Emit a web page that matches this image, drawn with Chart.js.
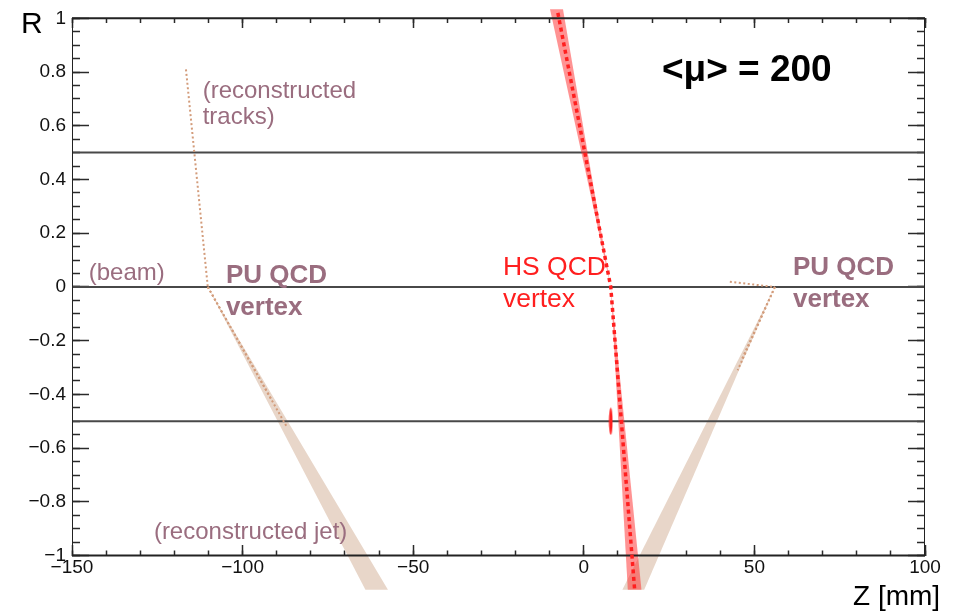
<!DOCTYPE html>
<html>
<head>
<meta charset="utf-8">
<title>R-Z event display</title>
<script src="https://cdn.jsdelivr.net/npm/chart.js@4.4.1/dist/chart.umd.min.js"></script>
<style>
  html, body { margin: 0; padding: 0; background: #fff; }
  #wrap { width: 953px; height: 614px; position: relative; }
</style>
</head>
<body>
<div id="wrap"><canvas id="rz"></canvas></div>
<script>
// axis ticks
const zMajorTicks = [-150, -100, -50, 0, 50, 100];
const rMajorTicks = [-1, -0.8, -0.6, -0.4, -0.2, 0, 0.2, 0.4, 0.6, 0.8, 1];

// reference lines (beam and +-0.5)
const guideR = [0.5, 0, -0.5];
const guideZ = [-150, 100];

// frame of the R-Z view
const frameZ = [-150, 100, 100, -150, -150];
const frameR = [1, 1, -1, -1, 1];

// pile-up vertex on the left
const puLeftConeZ = [-110.2, -64.0, -57.4];
const puLeftConeR = [0, -1.127, -1.127];
const puLeftTrackUpZ = [-116.6, -110.2];
const puLeftTrackUpR = [0.81, 0];
const puLeftTrackAZ = [-110.2, -87.0];
const puLeftTrackAR = [0, -0.522];
const puLeftTrackBZ = [-110.2, -91.5];
const puLeftTrackBR = [0, -0.42];

// pile-up vertex on the right
const puRightConeZ = [56.0, 11.3, 17.7];
const puRightConeR = [0, -1.127, -1.127];
const puRightTrackFlatZ = [42.8, 56.0];
const puRightTrackFlatR = [0.019, 0];
const puRightTrackAZ = [56.0, 45.1];
const puRightTrackAR = [0, -0.31];
const puRightTrackBZ = [56.0, 46.3];
const puRightTrackBR = [0, -0.27];

// hard-scatter vertex
const hsConeUpZ = [7.9, -9.9, -6.1];
const hsConeUpR = [0, 1.034, 1.034];
const hsConeDownZ = [7.9, 12.9, 16.9];
const hsConeDownR = [0, -1.127, -1.127];
const hsTrackZ = [-7.6, 7.9, 14.9];
const hsTrackR = [1.02, 0, -1.127];
const hsMarkerZ = [7.9];
const hsMarkerR = [-0.5];

const pts = (zs, rs) => zs.map((z, i) => ({ x: z, y: rs[i] }));

// layout of the frame inside the canvas
const W = 953, H = 614;
const FRAME_LEFT = 72, FRAME_RIGHT = 925, FRAME_TOP = 19, FRAME_BOTTOM = 555;
const EDGE = 1.75; // chart.js keeps half the widest line width free
const pxPerR = (FRAME_BOTTOM - FRAME_TOP) / 2;
const rMax = 1 + (FRAME_TOP - EDGE) / pxPerR;
const rMin = -1 - (H - EDGE - FRAME_BOTTOM) / pxPerR;

const FONT = "'Liberation Sans', Arial, Helvetica, sans-serif";
const MAUVE = '#9a6d7f';
const TAN_FILL = '#e8d6c9';
const TAN_DOTS = '#d39c7b';
const RED = '#ff1f1f';

Chart.defaults.font.family = FONT;

const fmt = v => {
    const a = Math.round(Math.abs(v) * 100) / 100;
    return (v < -1e-9 ? '\u2212' : '') + a;
};

const tickGrid = len => ({
    display: true, drawOnChartArea: false, drawTicks: true,
    tickLength: len, tickColor: '#2a2a2a', tickWidth: 1.5
});
const useTicks = list => s => { s.ticks = list.map(v => ({ value: v })); };
const keepInFrame = s => { s.ticks = s.ticks.filter(t => t.value >= -1.0001 && t.value <= 1.0001); };

// axes placed by value take no room in the layout
const noRoom = s => {
    if (s.isHorizontal()) s.height = 0; else s.width = 0;
    s.paddingTop = s.paddingBottom = s.paddingLeft = s.paddingRight = 0;
};

const zAxis = extra => Object.assign({
    type: 'linear', axis: 'x', min: -150, max: 100,
    border: { display: false }, afterFit: noRoom
}, extra);
const rAxis = extra => Object.assign({
    type: 'linear', axis: 'y', min: rMin, max: rMax,
    border: { display: false }, afterFit: noRoom
}, extra);

// small vertical ellipse for the vertex z marker
const marker = document.createElement('canvas');
marker.width = 5; marker.height = 28;
(function () {
    const c = marker.getContext('2d');
    c.fillStyle = RED;
    c.beginPath();
    c.ellipse(2.5, 14, 1.8, 13.5, 0, 0, Math.PI * 2);
    c.fill();
})();

const noPoints = { pointRadius: 0, pointHoverRadius: 0, pointBorderWidth: 0 };

function cone(zs, rs, color, order) {
    return Object.assign({ data: pts(zs, rs), showLine: true, fill: 'shape',
             backgroundColor: color, borderWidth: 0, order: order }, noPoints);
}
function dotted(zs, rs, color, width, dash, order) {
    return Object.assign({ data: pts(zs, rs), showLine: true, fill: false, borderColor: color,
             borderWidth: width, borderDash: dash, borderCapStyle: 'butt',
             order: order }, noPoints);
}
function solid(zs, rs, color, width, order) {
    return Object.assign({ data: pts(zs, rs), showLine: true, fill: false, borderColor: color,
             borderWidth: width, order: order }, noPoints);
}

const datasets = [
    cone(puLeftConeZ, puLeftConeR, TAN_FILL, 9),
    cone(puRightConeZ, puRightConeR, TAN_FILL, 9),
    ...guideR.map(r => solid(guideZ, guideZ.map(() => r), '#484848', 2, 8)),
    dotted(puLeftTrackUpZ, puLeftTrackUpR, TAN_DOTS, 2, [2, 2.5], 7),
    dotted(puLeftTrackAZ, puLeftTrackAR, TAN_DOTS, 2, [2, 2.5], 7),
    dotted(puLeftTrackBZ, puLeftTrackBR, TAN_DOTS, 2, [2, 2.5], 7),
    dotted(puRightTrackFlatZ, puRightTrackFlatR, TAN_DOTS, 2, [2, 2.5], 7),
    dotted(puRightTrackAZ, puRightTrackAR, TAN_DOTS, 2, [2, 2.5], 7),
    dotted(puRightTrackBZ, puRightTrackBR, TAN_DOTS, 2, [2, 2.5], 7),
    cone(hsConeUpZ, hsConeUpR, 'rgba(255,40,40,0.5)', 6),
    cone(hsConeDownZ, hsConeDownR, 'rgba(255,40,40,0.5)', 6),
    solid(frameZ, frameR, '#222', 2, 5),
    dotted(hsTrackZ, hsTrackR, RED, 3.5, [4, 3.5], 4),
    { data: pts(hsMarkerZ, hsMarkerR), showLine: false, pointStyle: marker,
      pointRadius: 1, pointHoverRadius: 0, pointBorderWidth: 0, borderWidth: 0, order: 3 }
];

// in-plot labels, anchored in (Z, R)
const notes = [
    { text: '(reconstructed', z: -111.7, r: 0.705, font: '24px ' + FONT, color: MAUVE },
    { text: 'tracks)', z: -111.7, r: 0.608, font: '24px ' + FONT, color: MAUVE },
    { text: '(beam)', z: -145.1, r: 0.026, font: '24px ' + FONT, color: MAUVE },
    { text: 'PU QCD', z: -104.9, r: 0.015, font: 'bold 26px ' + FONT, color: MAUVE },
    { text: 'vertex', z: -104.9, r: -0.104, font: 'bold 26px ' + FONT, color: MAUVE },
    { text: 'HS QCD', z: -23.7, r: 0.045, font: '26.5px ' + FONT, color: RED },
    { text: 'vertex', z: -23.7, r: -0.075, font: '26.5px ' + FONT, color: RED },
    { text: 'PU QCD', z: 61.3, r: 0.045, font: 'bold 26px ' + FONT, color: MAUVE },
    { text: 'vertex', z: 61.3, r: -0.075, font: 'bold 26px ' + FONT, color: MAUVE },
    { text: '(reconstructed jet)', z: -126.0, r: -0.937, font: '24px ' + FONT, color: MAUVE },
    { text: '<\u03bc> = 200', z: 22.9, r: 0.765, font: 'bold 37px ' + FONT, color: '#000' }
];

const labelsPlugin = {
    id: 'rzLabels',
    afterDraw(chart) {
        const { ctx, scales } = chart;
        ctx.save();
        ctx.textAlign = 'left';
        ctx.textBaseline = 'alphabetic';
        notes.forEach(n => {
            ctx.font = n.font;
            ctx.fillStyle = n.color;
            ctx.fillText(n.text, scales.x.getPixelForValue(n.z), scales.y.getPixelForValue(n.r));
        });
        // axis titles
        ctx.fillStyle = '#000';
        ctx.font = '30px ' + FONT;
        ctx.fillText('R', 21, 33);
        ctx.font = '28px ' + FONT;
        ctx.fillText('Z [mm]', 853, 605);
        ctx.restore();
    }
};

new Chart(document.getElementById('rz'), {
    type: 'scatter',
    data: { datasets: datasets },
    options: {
        responsive: true,
        maintainAspectRatio: false,
        animation: false,
        layout: { padding: { left: 0, right: W - FRAME_RIGHT, top: 0, bottom: 0 } },
        plugins: { legend: { display: false }, tooltip: { enabled: false } },
        scales: {
            x: zAxis({
                position: { y: -1 }, grid: tickGrid(-11),
                afterBuildTicks: useTicks(zMajorTicks),
                ticks: { autoSkip: false, maxRotation: 0, padding: 12, color: '#111',
                         font: { size: 19 }, callback: fmt }
            }),
            xMinor: zAxis({ position: { y: -1 }, grid: tickGrid(-5.5),
                            ticks: { stepSize: 10, display: false } }),
            xTop: zAxis({ position: { y: 1 }, grid: tickGrid(10),
                          afterBuildTicks: useTicks(zMajorTicks), ticks: { display: false } }),
            xTopMinor: zAxis({ position: { y: 1 }, grid: tickGrid(5),
                               ticks: { stepSize: 10, display: false } }),
            y: rAxis({
                position: 'left', grid: tickGrid(-17),
                afterFit: s => {
                    s.width = FRAME_LEFT;
                    s.paddingTop = s.paddingBottom = 0;
                },
                afterBuildTicks: useTicks(rMajorTicks),
                ticks: { autoSkip: false, padding: 23, color: '#111',
                         font: { size: 19 }, callback: fmt }
            }),
            yMinor: rAxis({ position: { x: -150 }, grid: tickGrid(-8),
                            afterBuildTicks: keepInFrame, ticks: { stepSize: 0.05, display: false } }),
            yRight: rAxis({ position: { x: 100 }, grid: tickGrid(17),
                            afterBuildTicks: useTicks(rMajorTicks), ticks: { display: false } }),
            yRightMinor: rAxis({ position: { x: 100 }, grid: tickGrid(8),
                                 afterBuildTicks: keepInFrame, ticks: { stepSize: 0.05, display: false } })
        }
    },
    plugins: [labelsPlugin]
});
</script>
</body>
</html>
